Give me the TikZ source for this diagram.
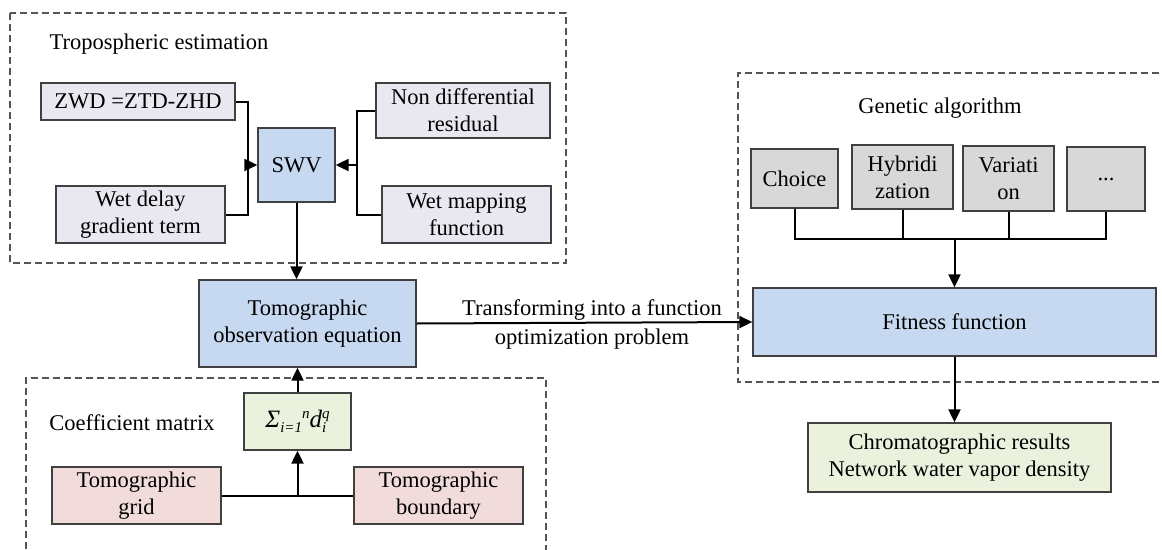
\documentclass[tikz,border=0pt]{standalone}
\usepackage{fontspec}
\setmainfont{Liberation Serif}
\usetikzlibrary{arrows.meta}
\definecolor{lav}{HTML}{E9E7F0}
\definecolor{blu}{HTML}{C6D9F0}
\definecolor{grn}{HTML}{EAF1DD}
\definecolor{pnk}{HTML}{F2DCDB}
\definecolor{gry}{HTML}{D8D8D8}
\definecolor{edge}{HTML}{404040}
\definecolor{dash}{HTML}{555555}
\newcommand\subsz[1]{{\fontsize{15}{15}\selectfont #1}}
\tikzset{
  box/.style={draw=edge, line width=1.3pt, align=center, inner sep=0pt,
    font=\fontsize{22.5}{27}\selectfont},
  lavbox/.style={box, fill=lav},
  blubox/.style={box, fill=blu},
  grnbox/.style={box, fill=grn},
  pnkbox/.style={box, fill=pnk},
  grybox/.style={box, fill=gry},
  lbl/.style={align=center, inner sep=0pt, font=\fontsize{22.5}{27}\selectfont},
  conn/.style={line width=2pt},
  arr/.style={line width=2pt, -{Triangle[length=13pt,width=12pt]}},
  dbox/.style={draw=dash, line width=1.3pt, dash pattern=on 7pt off 4pt}
}
\begin{document}
\begin{tikzpicture}[x=1pt,y=-1pt]
\useasboundingbox (0,0) rectangle (1162,549);
% dashed groups
\draw[dbox] (10,13) rectangle (566,263);
\draw[dbox] (1170,73) -- (738,73) -- (738,382) -- (1170,382);
\draw[dbox] (26,560) -- (26,378) -- (546,378) -- (546,560);
% labels
\node[lbl] (tlab) at (159,44) {Tropospheric estimation};
\node[lbl] (clab) at (132,423) {Coefficient matrix};
\node[lbl] (glab) at (940,108) {Genetic algorithm};
% nodes
\node[lavbox, minimum width=194pt, minimum height=37pt] (zwd) at (138,101.5) {ZWD =ZTD-ZHD};
\node[lavbox, minimum width=169pt, minimum height=57pt] (wet) at (140.5,214.5) {Wet delay\\gradient term};
\node[blubox, minimum width=77pt, minimum height=74pt] (swv) at (296.5,165) {SWV};
\node[lavbox, minimum width=174pt, minimum height=55pt] (nond) at (463,110.5) {Non differential\\residual};
\node[lavbox, minimum width=169pt, minimum height=57pt] (wmap) at (466.5,214.5) {Wet mapping\\function};
\node[blubox, minimum width=217pt, minimum height=87pt] (tomo) at (307.5,323.5) {Tomographic\\observation equation};
\node[grnbox, minimum width=107pt, minimum height=57pt] (sig) at (297.5,421.5)
  {\fontsize{25}{27}\selectfont\itshape Σ\raisebox{-0.4ex}{\subsz{i=1}}\raisebox{0.8ex}{\subsz{n}}d\makebox[0pt][l]{\raisebox{-0.4ex}{\subsz{i}}}\raisebox{0.8ex}{\subsz{q}}};
\node[pnkbox, minimum width=169pt, minimum height=57pt] (grid) at (136.5,495.5) {Tomographic\\grid};
\node[pnkbox, minimum width=169pt, minimum height=57pt] (bound) at (438.5,495.5) {Tomographic\\boundary};
\node[grybox, minimum width=87pt, minimum height=59pt] (choice) at (794.5,178.5) {Choice};
\node[grybox, minimum width=101pt, minimum height=64pt] (hyb) at (902.5,177) {Hybridi\\zation};
\node[grybox, minimum width=91pt, minimum height=65pt] (var) at (1008.5,178.5) {Variati\\on};
\node[grybox, minimum width=78pt, minimum height=64pt] (dots) at (1106,179) {...};
\node[blubox, minimum width=403pt, minimum height=68pt] (fit) at (954.5,322) {Fitness function};
\node[grnbox, minimum width=303pt, minimum height=69pt] (res) at (959.5,457.5) {Chromatographic results\\Network water vapor density};
% connectors top-left
\coordinate (jl) at (248,165);
\coordinate (jr) at (357,165);
\draw[conn] (zwd.east) -| (jl);
\draw[conn] (wet.east) -| (jl);
\draw[arr] (jl) -- (swv.west);
\draw[conn] (nond.west) -| (jr);
\draw[conn] (wmap.west) -| (jr);
\draw[arr] (jr) -- (swv.east);
\draw[arr] (swv.south) -- (swv.south |- tomo.north);
% bottom-left
\draw[conn] (grid.east) -- (bound.west);
\draw[arr] (sig.south |- grid.east) -- (sig.south);
\draw[arr] (sig.north) -- (sig.north |- tomo.south);
% main arrow
\draw[arr] (tomo.east) -- (fit.west);
\node[lbl, font=\fontsize{22.5}{29}\selectfont] (tlbl) at (592,324.5) {Transforming into a function\\optimization problem};
% right
\coordinate (hb) at (0,239);
\draw[conn] (choice.south) -- (choice.south |- hb) -- (dots.south |- hb) -- (dots.south);
\draw[conn] (hyb.south) -- (hyb.south |- hb);
\draw[conn] (var.south) -- (var.south |- hb);
\draw[arr] (fit.north |- hb) -- (fit.north);
\draw[arr] (fit.south) -- (fit.south |- res.north);
\end{tikzpicture}
\end{document}
